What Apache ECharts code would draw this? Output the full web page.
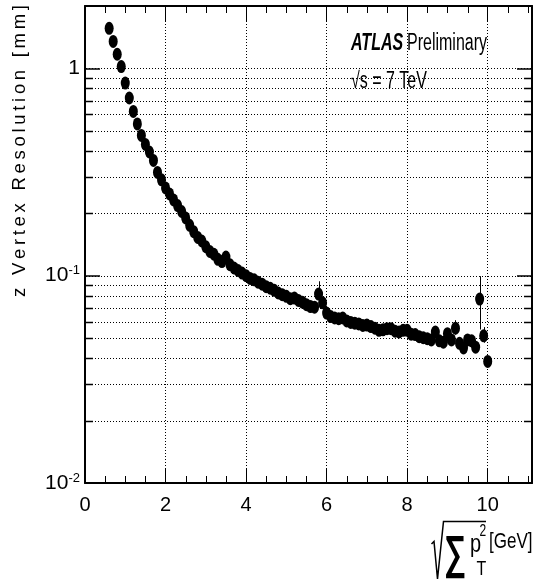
<!DOCTYPE html>
<html>
<head>
<meta charset="utf-8">
<script src="https://cdn.jsdelivr.net/npm/echarts@6/dist/echarts.min.js"></script>
<style>
html,body{margin:0;padding:0;background:#fff;}
#chart{width:534px;height:582px;}
</style>
</head>
<body>
<div id="chart"></div>
<script>
// ---- data ----
const sqrtSumPt2 = [0.6,0.7,0.8,0.9,1.0,1.1,1.2,1.3,1.4,1.5,1.6,1.7,1.8,1.9,2.0,2.1,2.2,2.3,2.4,2.5,
  2.6,2.7,2.8,2.9,3.0,3.1,3.2,3.3,3.4,3.5,3.6,3.7,3.8,3.9,4.0,4.1,4.2,4.3,4.4,4.5,
  4.6,4.7,4.8,4.9,5.0,5.1,5.2,5.3,5.4,5.5,5.6,5.7,5.8,5.9,6.0,6.1,6.2,6.3,6.4,6.5,
  6.6,6.7,6.8,6.9,7.0,7.1,7.2,7.3,7.4,7.5,7.6,7.7,7.8,7.9,8.0,8.1,8.2,8.3,8.4,8.5,
  8.6,8.7,8.8,8.9,9.0,9.1,9.2,9.3,9.4,9.5,9.6,9.7,9.8,9.9,10.0];
const zResolution = [1.56,1.35,1.17,1.02,0.85,0.72,0.62,0.54,0.475,0.43,0.395,0.36,0.315,0.29,0.265,0.248,0.232,0.218,0.204,0.19,
  0.175,0.163,0.153,0.147,0.138,0.131,0.127,0.12,0.117,0.123,0.113,0.109,0.106,0.103,0.100,0.097,0.0955,0.093,0.091,0.0885,
  0.087,0.085,0.0825,0.081,0.0795,0.0775,0.078,0.076,0.0745,0.0725,0.071,0.0705,0.0815,0.074,0.066,0.0635,0.0625,0.062,0.0625,0.0605,
  0.0595,0.059,0.0585,0.0575,0.0578,0.0568,0.0558,0.0545,0.0548,0.0555,0.0555,0.054,0.0535,0.0545,0.0545,0.0522,0.052,0.0508,0.0502,0.0497,
  0.049,0.0535,0.0485,0.0478,0.0525,0.049,0.0558,0.0472,0.0448,0.049,0.0485,0.0452,0.0771,0.0513,0.0386];
// visible error bars
const errX  = [5.8, 9.2, 9.8, 9.9];
const errLo = [0.074, 0.052, 0.055, 0.0475];
const errHi = [0.094, 0.061, 0.0995, 0.0565];
// axis decorations
const xMinorTicks = [0.5,1,1.5,2.5,3,3.5,4.5,5,5.5,6.5,7,7.5,8.5,9,9.5,10.5,11];
const yGridValues = [0.02,0.03,0.04,0.05,0.06,0.07,0.08,0.09,0.1,0.2,0.3,0.4,0.5,0.6,0.7,0.8,0.9,1];
const yMinorTicks = [0.02,0.03,0.04,0.05,0.06,0.07,0.08,0.09,0.2,0.3,0.4,0.5,0.6,0.7,0.8,0.9];
const yTickLabels = {'0': '{b|1}', '-1': '{b|10}{s|-1}', '-2': '{b|10}{s|-2}'};
const yTitle = 'z Vertex Resolution [mm]';

const FONT = 'Liberation Sans, Arial, Helvetica, sans-serif';
const chart = echarts.init(document.getElementById('chart'), null, {renderer: 'canvas'});

function crisp(v) { return Math.round(v) + 0.5; }

const option = {
  backgroundColor: '#fff',
  animation: false,
  grid: {left: 85, right: 2, top: 6, bottom: 99, containLabel: false},
  xAxis: [{
    type: 'value', min: 0, max: 11.1, interval: 2, position: 'bottom',
    axisLine: {show: true, onZero: false, lineStyle: {color: '#000', width: 2}},
    axisTick: {show: true, inside: true, length: 15, lineStyle: {color: '#000', width: 1}},
    axisLabel: {show: true, color: '#000', fontSize: 20, fontFamily: FONT, margin: 12, showMaxLabel: false,
      formatter: v => (Math.abs(v - Math.round(v)) < 1e-6 && Math.round(v) % 2 === 0) ? String(Math.round(v)) : ''},
    splitLine: {show: true, lineStyle: {color: '#000', width: 1, type: [1, 2]}}
  }, {
    type: 'value', min: 0, max: 11.1, interval: 2, position: 'top',
    axisLine: {show: true, onZero: false, lineStyle: {color: '#000', width: 2}},
    axisTick: {show: true, inside: true, length: 15, lineStyle: {color: '#000', width: 1}},
    axisLabel: {show: false}, splitLine: {show: false}
  }],
  yAxis: [{
    type: 'log', logBase: 10, min: 0.01, max: 2, position: 'left',
    axisLine: {show: true, onZero: false, lineStyle: {color: '#000', width: 2}},
    axisTick: {show: true, inside: true, length: 15, lineStyle: {color: '#000', width: 1.5}},
    axisLabel: {show: true, margin: 5, showMaxLabel: false, fontFamily: FONT, color: '#000',
      formatter: v => {
        const e = Math.log10(v); const r = Math.round(e);
        if (Math.abs(e - r) > 1e-6) return '';
        return yTickLabels[String(r)] || '';
      },
      rich: {
        b: {fontSize: 21, fontFamily: FONT, color: '#000'},
        s: {fontSize: 13, fontFamily: FONT, color: '#000', verticalAlign: 'top', padding: [0, 0, 10, 0]}
      }},
    splitLine: {show: false}
  }, {
    type: 'log', logBase: 10, min: 0.01, max: 2, position: 'right',
    axisLine: {show: true, onZero: false, lineStyle: {color: '#000', width: 2}},
    axisTick: {show: true, inside: true, length: 15, lineStyle: {color: '#000', width: 1.5}},
    axisLabel: {show: false}, splitLine: {show: false}
  }],
  series: [
    {
      type: 'custom', name: 'ygrid', z: 1, silent: true, clip: false,
      data: yGridValues.map(v => [0, v]),
      renderItem: (params, api) => {
        const cs = params.coordSys;
        const y = crisp(api.coord([0, api.value(1)])[1]);
        return {type: 'line', shape: {x1: cs.x + 1, y1: y, x2: cs.x + cs.width - 1, y2: y},
          style: {stroke: '#000', lineWidth: 1, lineDash: [1, 2]}};
      }
    },
    {
      type: 'custom', name: 'yminor', z: 2, silent: true, clip: false,
      data: yMinorTicks.map(v => [0, v]),
      renderItem: (params, api) => {
        const cs = params.coordSys;
        const y = crisp(api.coord([0, api.value(1)])[1]);
        return {type: 'group', children: [
          {type: 'line', shape: {x1: cs.x, y1: y, x2: cs.x + 8, y2: y}, style: {stroke: '#000', lineWidth: 1.5}},
          {type: 'line', shape: {x1: cs.x + cs.width - 8, y1: y, x2: cs.x + cs.width, y2: y}, style: {stroke: '#000', lineWidth: 1.5}}
        ]};
      }
    },
    {
      type: 'custom', name: 'xminor', z: 2, silent: true, clip: false,
      data: xMinorTicks.map(v => [v, 1]),
      renderItem: (params, api) => {
        const cs = params.coordSys;
        const x = crisp(api.coord([api.value(0), 1])[0]);
        const yb = cs.y + cs.height, yt = cs.y;
        return {type: 'group', children: [
          {type: 'line', shape: {x1: x, y1: yb, x2: x, y2: yb - 7}, style: {stroke: '#000', lineWidth: 1}},
          {type: 'line', shape: {x1: x, y1: yt, x2: x, y2: yt + 7}, style: {stroke: '#000', lineWidth: 1}}
        ]};
      }
    },
    {
      type: 'custom', name: 'errors', z: 3, silent: true,
      data: errX.map((x, i) => [x, errLo[i], errHi[i]]),
      renderItem: (params, api) => {
        const lo = api.coord([api.value(0), api.value(1)]);
        const hi = api.coord([api.value(0), api.value(2)]);
        const x = crisp(lo[0]);
        return {type: 'line', shape: {x1: x, y1: lo[1], x2: x, y2: hi[1]}, style: {stroke: '#000', lineWidth: 1}};
      }
    },
    {
      type: 'scatter', name: 'data', z: 4, silent: true,
      symbol: 'circle', symbolSize: [9, 13],
      itemStyle: {color: '#000', opacity: 1},
      data: sqrtSumPt2.map((x, i) => [x, zResolution[i]])
    }
  ],
  graphic: [
    {type: 'text', x: 20, y: 151, rotation: Math.PI / 2, silent: true,
      style: {text: yTitle.split('').join('\u2009'), font: '18.5px ' + FONT, fill: '#000', align: 'center', verticalAlign: 'middle'}},
    {type: 'text', x: 351, y: 43.5, scaleY: 1.45, silent: true,
      style: {text: 'ATLAS', font: 'italic bold 16px ' + FONT, fill: '#000', align: 'left', verticalAlign: 'middle'}},
    {type: 'text', x: 407, y: 43.5, scaleY: 1.45, silent: true,
      style: {text: 'Preliminary', font: '16px ' + FONT, fill: '#000', align: 'left', verticalAlign: 'middle'}},
    {type: 'text', x: 351, y: 82, scaleY: 1.45, silent: true,
      style: {text: '\u221As = 7 TeV', font: '16px ' + FONT, fill: '#000', align: 'left', verticalAlign: 'middle'}},
    // x-axis title: sqrt( sum pT^2 ) [GeV]
    {type: 'polyline', silent: true,
      shape: {points: [[431.5, 544], [434, 541.5], [437.5, 579], [443.5, 521.5], [486, 521.5]]},
      style: {stroke: '#000', lineWidth: 1.5, fill: null}},
    {type: 'text', x: 455, y: 555, scaleY: 1.5, silent: true,
      style: {text: '\u2211', font: 'bold 31px ' + FONT, fill: '#000', align: 'center', verticalAlign: 'middle'}},
    {type: 'text', x: 470, y: 545, scaleY: 1.25, silent: true,
      style: {text: 'p', font: '20px ' + FONT, fill: '#000', align: 'left', verticalAlign: 'middle'}},
    {type: 'text', x: 479.5, y: 532, scaleY: 1.3, silent: true,
      style: {text: '2', font: '12px ' + FONT, fill: '#000', align: 'left', verticalAlign: 'middle'}},
    {type: 'text', x: 476.5, y: 569.5, scaleY: 1.3, silent: true,
      style: {text: 'T', font: '16px ' + FONT, fill: '#000', align: 'left', verticalAlign: 'middle'}},
    {type: 'text', x: 489, y: 542, scaleY: 1.35, silent: true,
      style: {text: '[GeV]', font: '17px ' + FONT, fill: '#000', align: 'left', verticalAlign: 'middle'}}
  ]
};
chart.setOption(option);
</script>
</body>
</html>
